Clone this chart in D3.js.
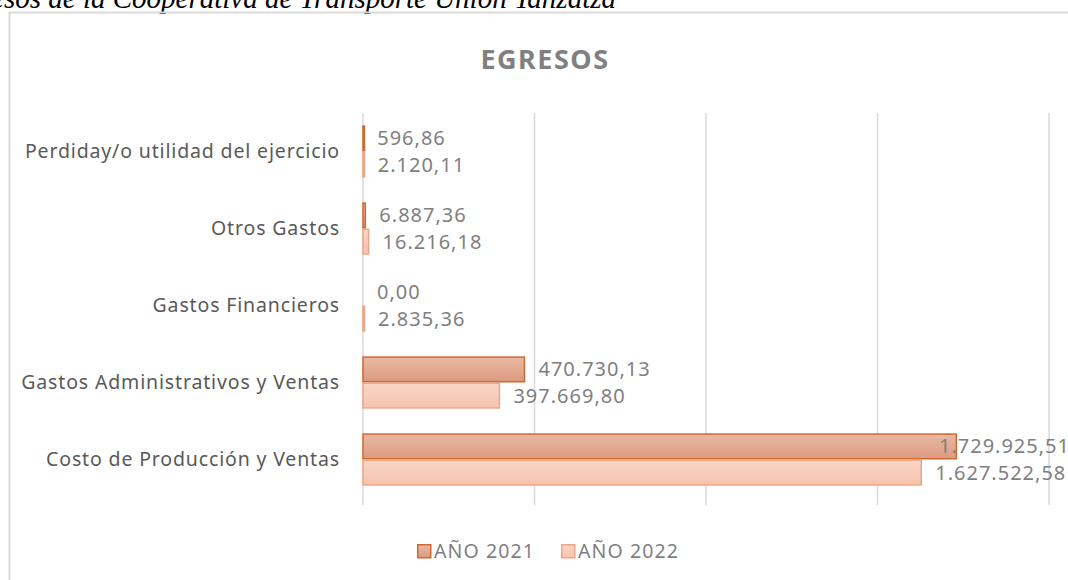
<!DOCTYPE html>
<html>
<head>
<meta charset="utf-8">
<script src="https://cdn.jsdelivr.net/npm/d3@7"></script>
<style>
	body { margin: 0; background: #fff; }
	svg { display: block; }
</style>
</head>
<body>
<div id="chart"></div>
<script>
// categories top to bottom
const categories = [
	"Perdiday/o utilidad del ejercicio",
	"Otros Gastos",
	"Gastos Financieros",
	"Gastos Administrativos y Ventas",
	"Costo de Producción y Ventas",
];
const years = ["AÑO 2021", "AÑO 2022"];
const values2021 = [596.86, 6887.36, 0.0, 470730.13, 1729925.51];
const values2022 = [2120.11, 16216.18, 2835.36, 397669.8, 1627522.58];
const ticks = [0, 500000, 1000000, 1500000, 2000000];

const width = 1068;
const height = 580;
const font = "'Noto Sans', sans-serif";
const grey = "#7f7f7f";

const svg = d3
	.select("#chart")
	.append("svg")
	.attr("width", width)
	.attr("height", height);

const defs = svg.append("defs");
const grad = (id, top, bottom) => {
	const g = defs
		.append("linearGradient")
		.attr("id", id)
		.attr("x1", 0).attr("y1", 0).attr("x2", 0).attr("y2", 1);
	g.append("stop").attr("offset", "0%").attr("stop-color", top);
	g.append("stop").attr("offset", "100%").attr("stop-color", bottom);
};
grad("g2021", "#e9b9a3", "#dc9a80");
grad("g2022", "#fad6c8", "#f6c3ae");

const fills = { "AÑO 2021": "url(#g2021)", "AÑO 2022": "url(#g2022)" };
const strokes = { "AÑO 2021": "#d0692f", "AÑO 2022": "#f0a585" };

// caption above the chart (cut at the left edge, as in the source page)
svg
	.append("text")
	.attr("x", 616)
	.attr("y", 8)
	.attr("text-anchor", "end")
	.style("font-family", "'Liberation Serif', serif")
	.style("font-style", "italic")
	.style("font-size", "29px")
	.attr("fill", "#000")
	.text("Egresos de la Cooperativa de Transporte Unión Yanzatza");

// chart frame
svg
	.append("path")
	.attr("d", `M9.5,${height} V12.5 H${width}`)
	.attr("fill", "none")
	.attr("stroke", "#d9d9d9")
	.attr("stroke-width", 2);

svg
	.append("text")
	.attr("x", 545)
	.attr("y", 69)
	.attr("text-anchor", "middle")
	.style("font-family", font)
	.style("font-weight", "bold")
	.style("font-size", "27px")
	.style("letter-spacing", "1.5px")
	.attr("fill", "#808080")
	.text("EGRESOS");

const x = d3.scaleLinear().domain([0, 2000000]).range([363, 1049]);
const y = d3
	.scaleBand()
	.domain(categories)
	.range([113, 498])
	.paddingInner(0.32)
	.paddingOuter(0.16);
const ySub = d3.scaleBand().domain(years).range([0, y.bandwidth()]);

// gridlines
svg
	.append("g")
	.selectAll("line")
	.data(ticks)
	.join("line")
	.attr("x1", (d) => x(d))
	.attr("x2", (d) => x(d))
	.attr("y1", 113)
	.attr("y2", 505)
	.attr("stroke", "#d9d9d9")
	.attr("stroke-width", 1.5);

// category labels
svg
	.append("g")
	.selectAll("text")
	.data(categories)
	.join("text")
	.attr("x", 340)
	.attr("y", (d) => y(d) + y.bandwidth() / 2)
	.attr("dy", "0.35em")
	.attr("text-anchor", "end")
	.style("font-family", font)
	.style("font-size", "19.5px")
	.style("letter-spacing", "0.85px")
	.attr("fill", "#595959")
	.text((d) => d);

const rows = [];
categories.forEach((c, i) => {
	rows.push({ cat: c, year: years[0], value: values2021[i] });
	rows.push({ cat: c, year: years[1], value: values2022[i] });
});

const fmt = (v) =>
	v.toLocaleString("de-DE", { minimumFractionDigits: 2, maximumFractionDigits: 2 });

svg
	.append("g")
	.selectAll("rect")
	.data(rows.filter((d) => d.value > 0))
	.join("rect")
	.attr("x", x(0))
	.attr("y", (d) => y(d.cat) + ySub(d.year) + 0.75)
	.attr("width", (d) => Math.max(x(d.value) - x(0), 1.5))
	.attr("height", ySub.bandwidth() - 1.5)
	.attr("fill", (d) => fills[d.year])
	.attr("stroke", (d) => strokes[d.year])
	.attr("stroke-width", 1.5);

const labels = svg
	.append("g")
	.selectAll("text")
	.data(rows)
	.join("text")
	.attr("y", (d) => y(d.cat) + ySub(d.year) + ySub.bandwidth() / 2)
	.attr("dy", "0.35em")
	.style("font-family", font)
	.style("font-size", "20px")
	.style("letter-spacing", "1px")
	.attr("fill", grey)
	.text((d) => fmt(d.value));

labels.each(function (d) {
	const w = this.getComputedTextLength();
	const pos = Math.min(x(d.value) + 14, 1070 - w);
	d3.select(this).attr("x", pos);
});

// legend
const legend = svg
	.append("g")
	.selectAll("g")
	.data(years)
	.join("g")
	.attr("transform", (d, i) => `translate(${417 + i * 144},544)`);

legend
	.append("rect")
	.attr("width", 13)
	.attr("height", 13)
	.attr("x", 0.75)
	.attr("y", 0.75)
	.attr("fill", (d) => fills[d])
	.attr("stroke", (d) => strokes[d])
	.attr("stroke-width", 1.5);

legend
	.append("text")
	.attr("x", 17)
	.attr("y", 7)
	.attr("dy", "0.35em")
	.style("font-family", font)
	.style("font-size", "19.5px")
	.style("letter-spacing", "1.1px")
	.attr("fill", grey)
	.text((d) => d);
</script>
</body>
</html>
